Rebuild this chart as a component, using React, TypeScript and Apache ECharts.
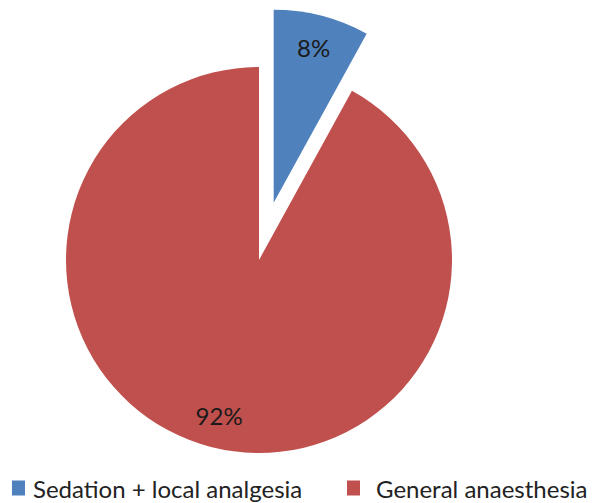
import React, { useEffect, useRef } from "react";
import * as echarts from "echarts";

const categories = ["Sedation + local analgesia", "General anaesthesia"];
const values = [8, 92];
const colors = ["#4F81BD", "#C0504D"];

export default function App() {
  const ref = useRef<HTMLDivElement>(null);
  useEffect(() => {
    if (!ref.current) return;
    const chart = echarts.init(ref.current, null, { renderer: "svg" });
    const font = "Lato, 'Liberation Sans', sans-serif";
    const data = categories.map((name, i) => ({
      name,
      value: values[i],
      selected: i === 0,
      itemStyle: { color: colors[i] },
    }));
    const legendBase = {
      top: 475,
      padding: 0,
      icon: "rect",
      itemWidth: 13,
      itemHeight: 15,
      textStyle: {
        fontFamily: font,
        fontSize: 24,
        lineHeight: 26,
        color: "#222",
        padding: [0, 0, 0, 3],
      },
    };
    chart.setOption({
      animation: false,
      backgroundColor: "#ffffff",
      legend: [
        { ...legendBase, data: [categories[0]], left: 12 },
        {
          ...legendBase,
          data: [categories[1]],
          left: 347,
          textStyle: { ...legendBase.textStyle, padding: [0, 0, 0, 11] },
        },
      ],
      series: [
        {
          type: "pie",
          center: [259, 260],
          radius: 193,
          startAngle: 90,
          clockwise: true,
          selectedMode: "single",
          selectedOffset: 59,
          label: { show: false },
          labelLine: { show: false },
          data,
        },
        {
          type: "pie",
          center: [259, 260],
          radius: [122, 193],
          startAngle: 90,
          clockwise: true,
          silent: true,
          selectedMode: "single",
          selectedOffset: 59,
          legendHoverLink: false,
          itemStyle: { color: "transparent" },
          label: {
            show: true,
            position: "inside",
            formatter: "{c}%",
            fontFamily: font,
            fontSize: 24,
            color: "#1a1a1a",
          },
          labelLine: { show: false },
          data: categories.map((name, i) => ({
            name,
            value: values[i],
            selected: i === 0,
            itemStyle: { color: "transparent" },
          })),
        },
      ],
    });
    return () => chart.dispose();
  }, []);
  return (
    <div
      ref={ref}
      style={{ position: "fixed", left: 0, top: 0, width: 598, height: 503 }}
    />
  );
}
